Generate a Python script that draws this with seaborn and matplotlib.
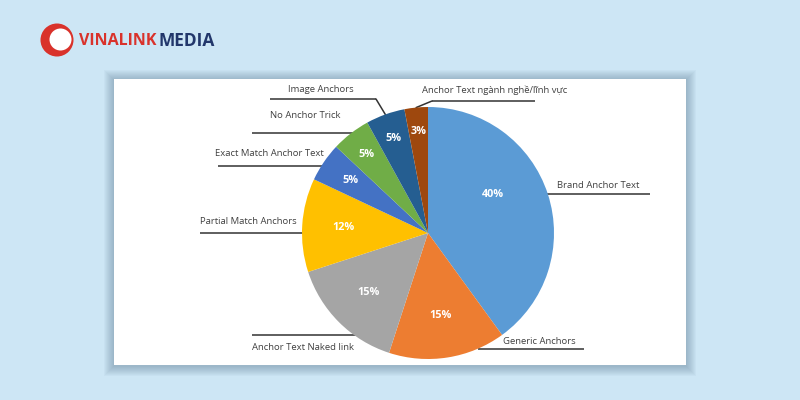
import numpy as np
import matplotlib.pyplot as plt
import seaborn as sns
from matplotlib.patches import Rectangle, Circle

sns.set_theme(style='white')
plt.rcParams['font.family'] = ['Open Sans', 'DejaVu Sans']

# data
labels = ['Brand Anchor Text', 'Generic Anchors', 'Anchor Text Naked link',
          'Partial Match Anchors', 'Exact Match Anchor Text', 'No Anchor Trick',
          'Image Anchors', 'Anchor Text ngành nghề/lĩnh vực']
shares = [40, 15, 15, 12, 5, 5, 5, 3]
colors = ['#5b9bd5', '#ed7d31', '#a5a5a5', '#ffc000',
          '#4472c4', '#70ad47', '#255e91', '#9e480e']

# layout (pixels): text x, text y, underline x0, x1, underline y, connect to pie
label_pos = [
    (557, 185, 547, 650, 194, False),
    (503, 342, 478, 584, 349, False),
    (252, 347, 252, 356, 335, False),
    (200, 222, 200, 303, 233, False),
    (215, 154, 218, 325, 166, False),
    (270, 116, 252, 356, 133, False),
    (288, 90, 270, 376, 99, True),
    (422, 90, 432, 535, 101, True),
]
pct_radius = [0.6, 0.66, 0.67, 0.67, 0.74, 0.79, 0.8, 0.81]
pct_nudge = [13, 0, 0, 0, 0, 0, 0, 0]  # degrees

fig = plt.figure(figsize=(8, 4), dpi=100)
fig.patch.set_facecolor('#cde6f5')

bg = fig.add_axes([0, 0, 1, 1])
bg.set_xlim(0, 800)
bg.set_ylim(400, 0)
bg.axis('off')

# card with soft shadow
for k in range(1, 11):
    bg.add_patch(Rectangle((114 - k, 79 - k + 1), 572 + 2 * k, 286 + 2 * k,
                           fc='#45657d', ec='none', alpha=0.04))
bg.add_patch(Rectangle((114, 79), 572, 286, fc='white', ec='none'))

# logo
bg.add_patch(Circle((57, 40), 16.5, fc='#d9322b', ec='none'))
bg.add_patch(Circle((60.5, 39.5), 11, fc='white', ec='none'))
bg.text(79, 41, 'VINALINK', color='#d9322b', fontsize=11.5, fontweight='bold',
        va='center', ha='left')
bg.text(158, 41, 'MEDIA', color='#22376b', fontsize=12.5, fontweight='bold',
        va='center', ha='left')

# pie
cx, cy, R = 428, 233, 126
ax = fig.add_axes([(cx - R) / 800, (400 - cy - R) / 400, 2 * R / 800, 2 * R / 400])
ax.patch.set_alpha(0)
wedges, texts, autotexts = ax.pie(
    shares, colors=colors, startangle=90, counterclock=False, radius=1,
    autopct=lambda p: f'{p:.0f}%', pctdistance=0.7,
    textprops=dict(color='white', fontweight='bold', fontsize=7.8),
    wedgeprops=dict(linewidth=0))
ax.set_xlim(-1, 1)
ax.set_ylim(-1, 1)
ax.set_aspect('auto')

cum = np.cumsum([0] + shares[:-1])
mids = 90 - 360 * (cum + np.array(shares) / 2) / sum(shares)
for t, th, r, nd in zip(autotexts, mids, pct_radius, pct_nudge):
    a = np.deg2rad(th + nd)
    t.set_position((r * np.cos(a), r * np.sin(a)))

to_bg = bg.transData.inverted()
for lab, th, (tx, ty, ux0, ux1, uy, conn) in zip(labels, mids, label_pos):
    bg.text(tx, ty, lab, fontsize=6.8, color='#404040', va='center', ha='left')
    bg.plot([ux0, ux1], [uy, uy], color='#333333', lw=1.1, solid_capstyle='butt')
    if conn:
        a = np.deg2rad(th)
        ex, ey = to_bg.transform(ax.transData.transform((np.cos(a), np.sin(a))))
        end = ux1 if ex > ux1 - 30 else ux0
        bg.plot([end, ex], [uy, ey], color='#333333', lw=1.1)

fig.savefig('out.png', dpi=100, facecolor=fig.get_facecolor())
